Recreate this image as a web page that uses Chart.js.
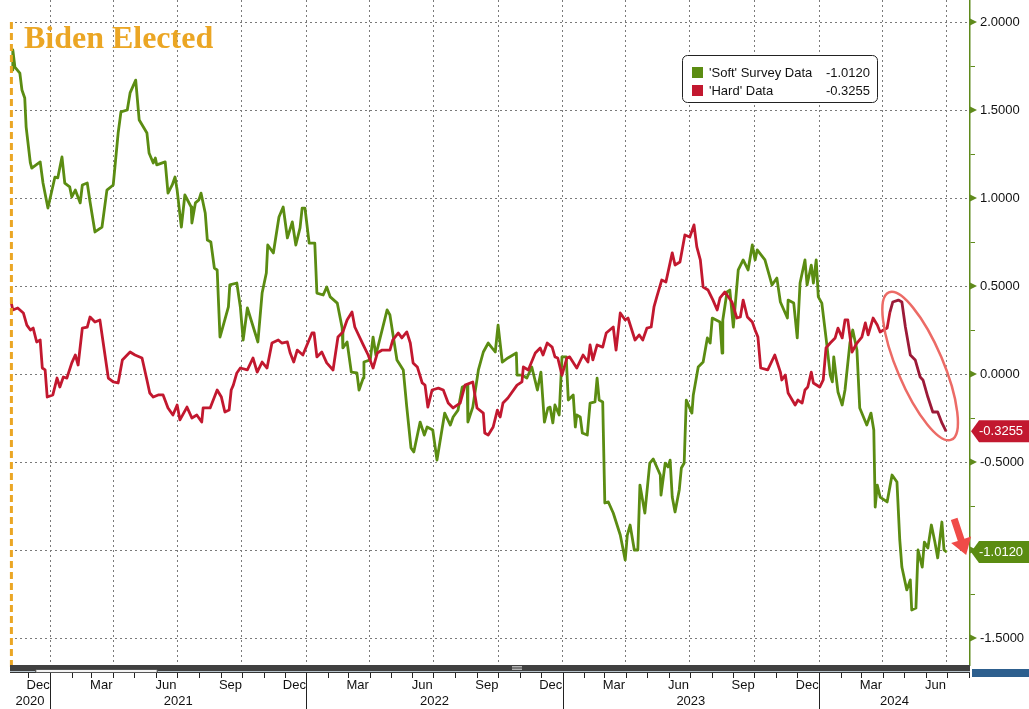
<!DOCTYPE html>
<html>
<head>
<meta charset="utf-8">
<title>Soft vs Hard Data</title>
<script src="https://cdn.jsdelivr.net/npm/chart.js@4.4.1/dist/chart.umd.min.js"></script>
<style>
  html, body { margin: 0; padding: 0; background: #fff; }
  #wrap { position: relative; width: 1029px; height: 709px; }
</style>
</head>
<body>
<div id="wrap"><canvas id="chart"></canvas></div>
<script>
// ---- data ----
const SERIES_NAMES = ["'Soft' Survey Data", "'Hard' Data"];

const SOFT_DATES = [
  '2020-11-08','2020-11-09','2020-11-12','2020-11-19','2020-11-22','2020-11-26','2020-11-28','2020-12-04','2020-12-06','2020-12-18',
  '2020-12-22','2020-12-29','2021-01-08','2021-01-12','2021-01-18','2021-01-22','2021-01-29','2021-02-01','2021-02-06','2021-02-13',
  '2021-02-16','2021-02-23','2021-02-27','2021-03-06','2021-03-16','2021-03-23','2021-04-01','2021-04-08','2021-04-12','2021-04-21',
  '2021-04-25','2021-05-03','2021-05-08','2021-05-19','2021-05-22','2021-05-28','2021-05-31','2021-06-02','2021-06-14','2021-06-18',
  '2021-06-24','2021-06-28','2021-07-01','2021-07-07','2021-07-12','2021-07-21','2021-07-22','2021-07-27','2021-08-01','2021-08-04',
  '2021-08-10','2021-08-13','2021-08-18','2021-08-23','2021-08-27','2021-08-31','2021-09-04','2021-09-12','2021-09-14','2021-09-24',
  '2021-09-29','2021-10-03','2021-10-09','2021-10-24','2021-10-30','2021-11-05','2021-11-07','2021-11-15','2021-11-23','2021-11-29',
  '2021-12-05','2021-12-12','2021-12-17','2021-12-23','2021-12-26','2021-12-30','2022-01-05','2022-01-13','2022-01-16','2022-01-25',
  '2022-01-30','2022-02-04','2022-02-14','2022-02-21','2022-02-22','2022-02-28','2022-03-06','2022-03-14','2022-03-17','2022-03-23',
  '2022-03-24','2022-04-02','2022-04-06','2022-04-10','2022-04-26','2022-04-30','2022-05-10','2022-05-19','2022-05-24','2022-05-30',
  '2022-06-03','2022-06-12','2022-06-18','2022-06-22','2022-06-30','2022-07-06','2022-07-17','2022-07-25','2022-07-29','2022-08-05',
  '2022-08-11','2022-08-18','2022-08-19','2022-08-26','2022-09-03','2022-09-10','2022-09-17','2022-09-27','2022-10-01','2022-10-07',
  '2022-10-15','2022-10-27','2022-10-28','2022-11-04','2022-11-11','2022-11-18','2022-11-26','2022-12-01','2022-12-06','2022-12-11',
  '2022-12-14','2022-12-18','2022-12-21','2022-12-27','2022-12-31','2023-01-06','2023-01-09','2023-01-16','2023-01-19','2023-01-21',
  '2023-01-26','2023-01-29','2023-02-05','2023-02-09','2023-02-16','2023-02-19','2023-02-22','2023-02-27','2023-03-02','2023-03-07',
  '2023-03-14','2023-03-24','2023-03-31','2023-04-03','2023-04-07','2023-04-13','2023-04-18','2023-04-21','2023-04-28','2023-05-05',
  '2023-05-10','2023-05-20','2023-05-21','2023-05-27','2023-05-31','2023-06-03','2023-06-06','2023-06-10','2023-06-16','2023-06-19',
  '2023-06-23','2023-06-26','2023-07-04','2023-07-06','2023-07-13','2023-07-20','2023-07-26','2023-07-30','2023-08-02','2023-08-13',
  '2023-08-16','2023-08-17','2023-08-23','2023-08-27','2023-09-01','2023-09-08','2023-09-15','2023-09-22','2023-09-28','2023-10-02',
  '2023-10-05','2023-10-16','2023-10-26','2023-11-02','2023-11-07','2023-11-17','2023-11-18','2023-11-26','2023-12-01','2023-12-05',
  '2023-12-12','2023-12-15','2023-12-21','2023-12-24','2023-12-28','2023-12-31','2024-01-05','2024-01-11','2024-01-17','2024-01-20',
  '2024-01-22','2024-01-28','2024-02-03','2024-02-07','2024-02-14','2024-02-18','2024-02-24','2024-02-28','2024-03-09','2024-03-15',
  '2024-03-19','2024-03-21','2024-03-24','2024-03-28','2024-04-07','2024-04-14','2024-04-21','2024-04-25','2024-04-28','2024-05-05',
  '2024-05-10','2024-05-12','2024-05-18','2024-05-21','2024-05-27','2024-05-30','2024-06-04','2024-06-09','2024-06-14','2024-06-18',
  '2024-06-24','2024-06-27','2024-07-01'
];
const SOFT_VALUES = [
  1.727, 1.841, 1.744, 1.710, 1.614, 1.568, 1.403, 1.199, 1.170, 1.205,
  1.085, 0.943, 1.119, 1.114, 1.233, 1.085, 1.063, 1.006, 1.045, 0.972,
  1.074, 1.085, 0.977, 0.807, 0.835, 1.045, 1.074, 1.369, 1.489, 1.500,
  1.597, 1.670, 1.443, 1.369, 1.256, 1.199, 1.227, 1.188, 1.205, 1.028,
  1.074, 1.119, 1.045, 0.835, 1.017, 0.949, 0.858, 0.972, 0.989, 1.028,
  0.915, 0.761, 0.750, 0.602, 0.591, 0.210, 0.267, 0.381, 0.506, 0.517,
  0.381, 0.193, 0.375, 0.182, 0.460, 0.574, 0.733, 0.688, 0.892, 0.949,
  0.773, 0.864, 0.733, 0.830, 0.943, 0.943, 0.744, 0.744, 0.460, 0.449,
  0.494, 0.438, 0.403, 0.261, 0.148, 0.182, 0.011, 0.006, -0.091, -0.023,
  0.068, 0.080, 0.210, 0.108, 0.364, 0.335, 0.080, 0.023, -0.188, -0.420,
  -0.443, -0.273, -0.347, -0.301, -0.318, -0.489, -0.222, -0.290, -0.244, -0.205,
  -0.074, -0.063, -0.273, -0.188, 0.023, 0.125, 0.176, 0.125, 0.278, 0.068,
  0.091, 0.119, -0.006, -0.006, -0.023, 0.040, -0.091, 0.011, -0.273, -0.193,
  -0.188, -0.278, -0.176, -0.233, 0.097, 0.097, -0.148, -0.119, -0.301, -0.233,
  -0.244, -0.335, -0.347, -0.165, -0.159, -0.023, -0.148, -0.159, -0.733, -0.727,
  -0.790, -0.915, -1.057, -0.915, -0.858, -1.000, -1.000, -0.631, -0.790, -0.506,
  -0.483, -0.574, -0.688, -0.506, -0.528, -0.489, -0.699, -0.784, -0.659, -0.534,
  -0.506, -0.148, -0.222, -0.119, 0.040, 0.068, 0.205, 0.176, 0.318, 0.295,
  0.119, 0.307, 0.466, 0.477, 0.267, 0.591, 0.648, 0.591, 0.733, 0.648,
  0.705, 0.648, 0.506, 0.545, 0.409, 0.318, 0.420, 0.403, 0.205, 0.517,
  0.648, 0.506, 0.619, 0.517, 0.648, 0.438, 0.403, 0.205, -0.006, -0.045,
  0.097, -0.102, -0.176, -0.091, 0.176, 0.250, 0.136, -0.193, -0.290, -0.222,
  -0.318, -0.756, -0.631, -0.699, -0.727, -0.574, -0.614, -0.943, -1.097, -1.227,
  -1.170, -1.341, -1.330, -1.000, -1.097, -0.955, -0.989, -0.858, -0.955, -1.045,
  -0.841, -1.000, -1.0120
];

const HARD_DATES = [
  '2020-11-06','2020-11-09','2020-11-16','2020-11-24','2020-11-29','2020-12-04','2020-12-08','2020-12-13','2020-12-18','2020-12-21',
  '2020-12-25','2020-12-28','2021-01-05','2021-01-11','2021-01-15','2021-01-20','2021-01-25','2021-02-01','2021-02-06','2021-02-10',
  '2021-02-16','2021-02-23','2021-02-27','2021-03-06','2021-03-13','2021-03-25','2021-04-01','2021-04-08','2021-04-14','2021-04-25',
  '2021-05-02','2021-05-12','2021-05-19','2021-05-23','2021-05-28','2021-06-04','2021-06-11','2021-06-18','2021-06-25','2021-07-01',
  '2021-07-05','2021-07-15','2021-07-22','2021-07-29','2021-08-05','2021-08-07','2021-08-17','2021-08-27','2021-09-02','2021-09-07',
  '2021-09-13','2021-09-16','2021-09-19','2021-09-24','2021-09-29','2021-10-09','2021-10-17','2021-10-23','2021-10-30','2021-11-06',
  '2021-11-13','2021-11-22','2021-11-27','2021-12-05','2021-12-09','2021-12-14','2021-12-19','2021-12-27','2022-01-09','2022-01-12',
  '2022-01-16','2022-01-23','2022-01-30','2022-02-08','2022-02-15','2022-02-22','2022-02-28','2022-03-07','2022-03-11','2022-03-23',
  '2022-03-30','2022-04-06','2022-04-12','2022-04-19','2022-04-30','2022-05-04','2022-05-12','2022-05-17','2022-05-24','2022-05-29',
  '2022-06-02','2022-06-08','2022-06-15','2022-06-19','2022-06-23','2022-06-29','2022-07-08','2022-07-15','2022-07-22','2022-07-29',
  '2022-08-08','2022-08-15','2022-08-26','2022-09-01','2022-09-10','2022-09-12','2022-09-17','2022-09-24','2022-09-30','2022-10-04',
  '2022-10-08','2022-10-15','2022-10-28','2022-11-04','2022-11-06','2022-11-13','2022-11-23','2022-11-30','2022-12-04','2022-12-10',
  '2022-12-17','2022-12-21','2022-12-25','2022-12-31','2023-01-07','2023-01-11','2023-01-21','2023-01-30','2023-02-06','2023-02-09',
  '2023-02-13','2023-02-19','2023-02-27','2023-03-04','2023-03-14','2023-03-18','2023-03-24','2023-03-31','2023-04-04','2023-04-14',
  '2023-04-20','2023-04-25','2023-05-01','2023-05-07','2023-05-11','2023-05-15','2023-05-22','2023-05-28','2023-06-06','2023-06-10',
  '2023-06-17','2023-06-24','2023-07-01','2023-07-07','2023-07-11','2023-07-16','2023-07-20','2023-07-27','2023-08-03','2023-08-09',
  '2023-08-13','2023-08-20','2023-08-30','2023-09-06','2023-09-11','2023-09-15','2023-09-21','2023-09-28','2023-10-02','2023-10-06',
  '2023-10-10','2023-10-20','2023-10-30','2023-11-07','2023-11-09','2023-11-14','2023-11-18','2023-11-28','2023-12-02','2023-12-08',
  '2023-12-12','2023-12-16','2023-12-21','2023-12-24','2024-01-02','2024-01-07','2024-01-11','2024-01-17','2024-01-24','2024-01-28',
  '2024-02-03','2024-02-07','2024-02-11','2024-02-17','2024-02-24','2024-03-02','2024-03-07','2024-03-11','2024-03-18','2024-03-24',
  '2024-03-28','2024-04-07','2024-04-11','2024-04-15','2024-04-23','2024-04-28','2024-05-03','2024-05-10','2024-05-17','2024-05-24',
  '2024-05-28','2024-06-04','2024-06-11','2024-06-18','2024-06-24','2024-06-30'
];
const HARD_VALUES = [
  0.420, 0.364, 0.375, 0.347, 0.278, 0.250, 0.261, 0.182, 0.193, 0.034,
  0.023, -0.131, -0.119, -0.023, -0.074, -0.017, -0.023, 0.063, 0.108, 0.051,
  0.261, 0.267, 0.324, 0.295, 0.307, -0.023, -0.045, -0.051, 0.080, 0.125,
  0.108, 0.091, -0.034, -0.108, -0.131, -0.119, -0.119, -0.193, -0.233, -0.176,
  -0.261, -0.188, -0.250, -0.233, -0.273, -0.193, -0.193, -0.091, -0.131, -0.216,
  -0.205, -0.091, -0.063, 0.006, 0.034, 0.023, 0.091, 0.011, 0.068, 0.034,
  0.176, 0.193, 0.176, 0.182, 0.119, 0.068, 0.136, 0.108, 0.233, 0.233,
  0.097, 0.125, 0.063, 0.023, 0.210, 0.239, 0.307, 0.352, 0.267, 0.165,
  0.108, 0.034, 0.119, 0.136, 0.136, 0.193, 0.233, 0.205, 0.239, 0.176,
  0.063, 0.040, -0.051, -0.063, -0.188, -0.091, -0.080, -0.091, -0.165, -0.193,
  -0.165, -0.063, -0.045, -0.193, -0.222, -0.335, -0.347, -0.301, -0.205, -0.244,
  -0.165, -0.136, -0.063, -0.045, 0.040, 0.023, 0.119, 0.148, 0.108, 0.176,
  0.153, 0.097, 0.091, -0.006, 0.091, 0.097, 0.034, 0.108, 0.068, 0.165,
  0.080, 0.165, 0.153, 0.233, 0.267, 0.136, 0.347, 0.307, 0.318, 0.193,
  0.222, 0.193, 0.261, 0.267, 0.381, 0.438, 0.534, 0.523, 0.688, 0.619,
  0.636, 0.790, 0.778, 0.847, 0.722, 0.648, 0.494, 0.477, 0.420, 0.364,
  0.432, 0.466, 0.409, 0.318, 0.324, 0.420, 0.324, 0.295, 0.250, 0.210,
  0.034, 0.023, 0.108, 0.011, -0.034, -0.006, -0.108, -0.176, -0.148, -0.165,
  -0.091, -0.074, 0.011, -0.051, -0.074, -0.034, 0.148, 0.176, 0.205, 0.261,
  0.205, 0.307, 0.307, 0.125, 0.176, 0.210, 0.290, 0.222, 0.318, 0.278,
  0.239, 0.261, 0.352, 0.409, 0.420, 0.409, 0.267, 0.108, 0.080, -0.017,
  -0.034, -0.131, -0.216, -0.216, -0.278, -0.3255
];

// axis range and ticks
const X_START = '2020-11-05';
const X_END = '2024-08-03';
const Y_MIN = -1.6534;
const Y_MAX = 2.125;
const Y_TICKS = [-1.5, -1.25, -1, -0.75, -0.5, -0.25, 0, 0.25, 0.5, 0.75, 1, 1.25, 1.5, 1.75, 2];
const MONTH_ABBR = ['Jan','Feb','Mar','Apr','May','Jun','Jul','Aug','Sep','Oct','Nov','Dec'];
const LABELLED_MONTHS = [2, 5, 8, 11];          // Mar, Jun, Sep, Dec
const YEARS = [2020, 2021, 2022, 2023, 2024];

// annotations
const EVENT_DATE = '2020-11-07';
const EVENT_LABEL = 'Biden Elected';
const HIGHLIGHT_FROM = '2024-04-11';
const ELLIPSE_AT = ['2024-05-24', 0.045];
const ARROW_AT = ['2024-07-20', -0.926];

// colours
const SOFT_COLOR = '#5b8c12';
const HARD_COLOR = '#c2182f';
const HARD_DARK = '#9c1a38';
const AXIS_GREEN = '#5f8a1c';
const GRID = '#7a7a7a';
const EVENT_COLOR = '#eba624';
const FONT = "'Liberation Sans', Arial, sans-serif";

// ---- helpers ----
const toDay = s => Date.UTC(+s.slice(0, 4), +s.slice(5, 7) - 1, +s.slice(8, 10)) / 864e5;
const ymd = (y, m, d) => Date.UTC(y, m, d) / 864e5;
const X_MIN = toDay(X_START), X_MAX = toDay(X_END);
const isMajor = v => Math.abs(v * 2 - Math.round(v * 2)) < 1e-6;

function monthStarts() {
  const out = [];
  YEARS.forEach(y => {
    for (let m = 0; m < 12; m++) {
      const d = ymd(y, m, 1);
      if (d > X_MIN && d < X_MAX) out.push({ y, m, d });
    }
  });
  return out;
}
const MONTHS = monthStarts();
const QUARTER_STARTS = MONTHS.filter(o => o.m % 3 === 0).map(o => o.d);

const lastSoft = SOFT_VALUES[SOFT_VALUES.length - 1];
const lastHard = HARD_VALUES[HARD_VALUES.length - 1];

// ---- extra drawing (Bloomberg-style furniture) ----
const extras = {
  id: 'extras',
  afterDatasetsDraw(chart) {
    const { ctx, chartArea: ca } = chart;
    const xs = chart.scales.x, ys = chart.scales.y;

    // event line + label
    const ex = xs.getPixelForValue(toDay(EVENT_DATE));
    ctx.save();
    ctx.strokeStyle = EVENT_COLOR;
    ctx.lineWidth = 3;
    ctx.setLineDash([7, 4]);
    ctx.beginPath();
    ctx.moveTo(ex, 22);
    ctx.lineTo(ex, ca.bottom + 4);
    ctx.stroke();
    ctx.setLineDash([]);
    ctx.fillStyle = EVENT_COLOR;
    ctx.font = "bold 32px 'Liberation Serif', 'Times New Roman', serif";
    ctx.textBaseline = 'alphabetic';
    ctx.fillText(EVENT_LABEL, ex + 12.5, 48);

    // ellipse round the fall of the hard data
    const cx = xs.getPixelForValue(toDay(ELLIPSE_AT[0]));
    const cy = ys.getPixelForValue(ELLIPSE_AT[1]);
    ctx.strokeStyle = '#ec6b66';
    ctx.lineWidth = 2.5;
    ctx.beginPath();
    ctx.ellipse(cx, cy, 80, 23, 67 * Math.PI / 180, 0, Math.PI * 2);
    ctx.stroke();

    // red arrow
    const ax = xs.getPixelForValue(toDay(ARROW_AT[0]));
    const ay = ys.getPixelForValue(ARROW_AT[1]);
    const T = [ax - 6, ay - 18], P = [ax + 6, ay + 18];
    const len = Math.hypot(P[0] - T[0], P[1] - T[1]);
    const u = [(P[0] - T[0]) / len, (P[1] - T[1]) / len];
    const n = [-u[1], u[0]];
    const B = [P[0] - u[0] * 16, P[1] - u[1] * 16];
    const hw = 3.5, HW = 10.5;
    ctx.fillStyle = '#f04b48';
    ctx.beginPath();
    ctx.moveTo(T[0] + n[0] * hw, T[1] + n[1] * hw);
    ctx.lineTo(B[0] + n[0] * hw, B[1] + n[1] * hw);
    ctx.lineTo(B[0] + n[0] * HW, B[1] + n[1] * HW);
    ctx.lineTo(P[0], P[1]);
    ctx.lineTo(B[0] - n[0] * HW, B[1] - n[1] * HW);
    ctx.lineTo(B[0] - n[0] * hw, B[1] - n[1] * hw);
    ctx.lineTo(T[0] - n[0] * hw, T[1] - n[1] * hw);
    ctx.closePath();
    ctx.fill();
    ctx.restore();
  },
  afterDraw(chart) {
    const { ctx, chartArea: ca } = chart;
    const xs = chart.scales.x, ys = chart.scales.y;
    ctx.save();

    // scroll band under the plot
    ctx.fillStyle = '#404040';
    ctx.fillRect(ca.left, ca.bottom, ca.right - ca.left, 6);
    ctx.fillStyle = '#b8c4cc';
    ctx.fillRect(ca.left, ca.bottom + 6, ca.right - ca.left, 1);
    ctx.fillStyle = '#333';
    ctx.fillRect(ca.left, ca.bottom + 7, ca.right - ca.left, 1);
    ctx.fillStyle = '#f4f4f4';
    ctx.strokeStyle = '#555';
    ctx.lineWidth = 1;
    ctx.beginPath();
    ctx.roundRect(35.5, ca.bottom + 4.5, 122, 3, 2);
    ctx.fill();
    ctx.stroke();
    ctx.fillStyle = '#cfcfcf';
    for (let i = 0; i < 3; i++) ctx.fillRect(512, ca.bottom + 1 + i * 1.6, 10, 0.8);

    // month tick marks, labels and year row
    const tickTop = ca.bottom + 8;
    ctx.strokeStyle = '#222';
    ctx.lineWidth = 1;
    MONTHS.forEach(o => {
      const px = Math.round(xs.getPixelForValue(o.d)) + 0.5;
      ctx.beginPath();
      ctx.moveTo(px, tickTop);
      ctx.lineTo(px, tickTop + 5);
      ctx.stroke();
      if (o.m === 0) {
        ctx.beginPath();
        ctx.moveTo(px, tickTop);
        ctx.lineTo(px, 709);
        ctx.stroke();
      }
    });
    ctx.fillStyle = '#111';
    ctx.font = '13px ' + FONT;
    ctx.textAlign = 'center';
    ctx.textBaseline = 'middle';
    YEARS.forEach(y => {
      LABELLED_MONTHS.forEach(m => {
        const mid = ymd(y, m, 15.5);
        if (mid > X_MIN && mid < X_MAX) ctx.fillText(MONTH_ABBR[m], xs.getPixelForValue(mid), ca.bottom + 20);
      });
      const a = Math.max(ymd(y, 0, 1), X_MIN), b = Math.min(ymd(y + 1, 0, 1), X_MAX);
      ctx.fillText(String(y), xs.getPixelForValue((a + b) / 2), ca.bottom + 36);
    });

    // triangles on the major y ticks
    ctx.fillStyle = AXIS_GREEN;
    Y_TICKS.filter(isMajor).forEach(v => {
      const py = ys.getPixelForValue(v);
      ctx.beginPath();
      ctx.moveTo(ca.right, py - 3.5);
      ctx.lineTo(ca.right + 7, py);
      ctx.lineTo(ca.right, py + 3.5);
      ctx.closePath();
      ctx.fill();
    });

    // last-value tags
    const tag = (val, color) => {
      const py = ys.getPixelForValue(val);
      ctx.fillStyle = color;
      ctx.beginPath();
      ctx.moveTo(ca.right + 1, py);
      ctx.lineTo(ca.right + 9, py - 11);
      ctx.lineTo(chart.width, py - 11);
      ctx.lineTo(chart.width, py + 11);
      ctx.lineTo(ca.right + 9, py + 11);
      ctx.closePath();
      ctx.fill();
      ctx.fillStyle = '#fff';
      ctx.font = '13px ' + FONT;
      ctx.textAlign = 'left';
      ctx.textBaseline = 'middle';
      ctx.fillText(val.toFixed(4), ca.right + 9, py + 0.5);
    };
    tag(lastHard, HARD_COLOR);
    tag(lastSoft, SOFT_COLOR);

    // partly hidden tag at the bottom edge of the axis
    ctx.fillStyle = '#2d5f8e';
    ctx.fillRect(ca.right + 2, ca.bottom + 4, chart.width - ca.right - 2, 8);

    // legend box
    ctx.fillStyle = '#fff';
    ctx.strokeStyle = '#222';
    ctx.lineWidth = 1;
    ctx.beginPath();
    ctx.roundRect(682.5, 55.5, 195, 47, 5);
    ctx.fill();
    ctx.stroke();
    const rows = [[SERIES_NAMES[0], lastSoft, SOFT_COLOR, 73], [SERIES_NAMES[1], lastHard, HARD_COLOR, 91]];
    ctx.font = '13px ' + FONT;
    ctx.textBaseline = 'middle';
    rows.forEach(([name, val, color, y]) => {
      ctx.fillStyle = color;
      ctx.fillRect(692, y - 6, 11, 11);
      ctx.fillStyle = '#111';
      ctx.textAlign = 'left';
      ctx.fillText(name, 709, y);
      ctx.textAlign = 'right';
      ctx.fillText(val.toFixed(4), 870, y);
    });
    ctx.restore();
  }
};

Chart.defaults.font.family = FONT;

const soft = SOFT_DATES.map((d, i) => ({ x: toDay(d), y: SOFT_VALUES[i] }));
const hard = HARD_DATES.map((d, i) => ({ x: toDay(d), y: HARD_VALUES[i] }));
const highlightDay = toDay(HIGHLIGHT_FROM);

new Chart(document.getElementById('chart'), {
  type: 'line',
  data: {
    datasets: [
      {
        label: SERIES_NAMES[0],
        data: soft,
        borderColor: SOFT_COLOR,
        borderWidth: 2.8,
        pointRadius: 0,
        borderJoinStyle: 'round',
        tension: 0,
        order: 1
      },
      {
        label: SERIES_NAMES[1],
        data: hard,
        borderColor: HARD_COLOR,
        borderWidth: 2.8,
        pointRadius: 0,
        borderJoinStyle: 'round',
        tension: 0,
        order: 0,
        segment: {
          borderColor: c => (c.p0.parsed.x >= highlightDay ? HARD_DARK : HARD_COLOR)
        }
      }
    ]
  },
  options: {
    responsive: true,
    maintainAspectRatio: false,
    animation: false,
    events: [],
    layout: { padding: { left: 10, top: 0, right: 0, bottom: 44 } },
    plugins: { legend: { display: false }, tooltip: { enabled: false } },
    scales: {
      x: {
        type: 'linear',
        min: X_MIN,
        max: X_MAX,
        afterBuildTicks: s => { s.ticks = QUARTER_STARTS.map(v => ({ value: v })); },
        ticks: { display: false },
        grid: { color: GRID, lineWidth: 1, drawTicks: false },
        border: { display: false, dash: [2, 3] },
        afterFit: s => { s.height = 0; s.paddingLeft = 0; s.paddingRight = 0; }
      },
      y: {
        type: 'linear',
        position: 'right',
        min: Y_MIN,
        max: Y_MAX,
        afterBuildTicks: s => { s.ticks = Y_TICKS.map(v => ({ value: v })); },
        ticks: {
          autoSkip: false,
          padding: 5,
          color: '#111',
          font: { size: 13, family: FONT },
          callback: v => (isMajor(v) ? v.toFixed(4) : '')
        },
        grid: {
          color: c => (c.tick && isMajor(c.tick.value) ? GRID : 'rgba(0,0,0,0)'),
          lineWidth: 1,
          tickColor: AXIS_GREEN,
          tickLength: 5
        },
        border: { color: AXIS_GREEN, width: 1.5, dash: [2, 3] },
        afterFit: s => { s.width = 59; s.paddingTop = 0; s.paddingBottom = 0; }
      }
    }
  },
  plugins: [extras]
});
</script>
</body>
</html>
